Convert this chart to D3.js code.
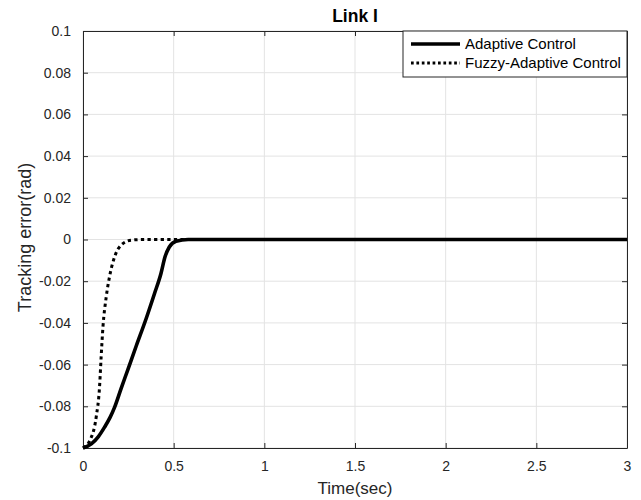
<!DOCTYPE html>
<html>
<head>
<meta charset="utf-8">
<script src="https://cdn.jsdelivr.net/npm/d3@7"></script>
<style>
  body { margin: 0; background: #fff; }
  svg { font-family: "Liberation Sans", Arial, sans-serif; }
</style>
</head>
<body>
<svg id="chart" width="641" height="500"></svg>
<script>
// values
const xTicks = [0, 0.5, 1, 1.5, 2, 2.5, 3];
const yTicks = [-0.1, -0.08, -0.06, -0.04, -0.02, 0, 0.02, 0.04, 0.06, 0.08, 0.1];

const timeAdaptive = [0, 0.046, 0.085, 0.119, 0.15, 0.174, 0.21, 0.247, 0.293, 0.348, 0.394, 0.43, 0.452, 0.476, 0.513, 0.58, 1, 2, 3];
const errAdaptive  = [-0.1, -0.098, -0.0945, -0.09, -0.0852, -0.0805, -0.0715, -0.0625, -0.0512, -0.038, -0.026, -0.0163, -0.0084, -0.0036, -0.0008, 0, 0, 0, 0];

const timeFuzzy = [0, 0.037, 0.073, 0.091, 0.1, 0.11, 0.128, 0.146, 0.174, 0.21, 0.266, 0.33, 1, 2, 3];
const errFuzzy  = [-0.1, -0.0965, -0.085, -0.071, -0.0564, -0.042, -0.0276, -0.018, -0.0084, -0.0027, -0.0003, 0, 0, 0, 0];

const legendNames = ["Adaptive Control", "Fuzzy-Adaptive Control"];

const margin = { top: 31, right: 14, bottom: 52, left: 83 };
const width = 641 - margin.left - margin.right;
const height = 500 - margin.top - margin.bottom;

const svg = d3.select("#chart");
const g = svg.append("g").attr("transform", `translate(${margin.left},${margin.top})`);

const x = d3.scaleLinear().domain([0, 3]).range([0, width]);
const y = d3.scaleLinear().domain([-0.1, 0.1]).range([height, 0]);

// grid
g.append("g").selectAll("line").data(xTicks).join("line")
  .attr("x1", d => x(d)).attr("x2", d => x(d)).attr("y1", 0).attr("y2", height)
  .attr("stroke", "#e3e3e3");
g.append("g").selectAll("line").data(yTicks).join("line")
  .attr("y1", d => y(d)).attr("y2", d => y(d)).attr("x1", 0).attr("x2", width)
  .attr("stroke", "#e3e3e3");

// axes, ticks pointing inward (plain hyphen for minus, like matlab)
const fmt = d => String(d);
g.append("g").attr("transform", `translate(0,${height})`)
  .call(d3.axisBottom(x).tickValues(xTicks).tickSizeInner(-5).tickSizeOuter(0).tickPadding(13).tickFormat(fmt));
g.append("g")
  .call(d3.axisLeft(y).tickValues(yTicks).tickSizeInner(-5).tickSizeOuter(0).tickPadding(12).tickFormat(fmt));
g.append("g").call(d3.axisTop(x).tickValues(xTicks).tickSizeInner(-5).tickSizeOuter(0).tickFormat(""));
g.append("g").attr("transform", `translate(${width},0)`)
  .call(d3.axisRight(y).tickValues(yTicks).tickSizeInner(-5).tickSizeOuter(0).tickFormat(""));
g.selectAll(".domain").attr("stroke", "#262626");
g.selectAll(".tick line").attr("stroke", "#262626");
g.selectAll(".tick text").attr("font-size", 14).attr("fill", "#262626")
  .attr("font-family", "Liberation Sans, Arial, sans-serif");

// lines
const line = d3.line().x(d => x(d[0])).y(d => y(d[1])).curve(d3.curveMonotoneX);
const adaptive = timeAdaptive.map((t, i) => [t, errAdaptive[i]]);
const fuzzy = timeFuzzy.map((t, i) => [t, errFuzzy[i]]);

g.append("path").datum(fuzzy).attr("d", line)
  .attr("fill", "none").attr("stroke", "#000").attr("stroke-width", 3)
  .attr("stroke-dasharray", "3.3,3.3");
g.append("path").datum(adaptive).attr("d", line)
  .attr("fill", "none").attr("stroke", "#000").attr("stroke-width", 3.6);

// legend
const lg = g.append("g").attr("transform", `translate(${x(3) - 224},0)`);
lg.append("rect").attr("width", 224).attr("height", 46)
  .attr("fill", "#fff").attr("stroke", "#262626");
legendNames.forEach((name, i) => {
  const yy = 13 + i * 19;
  lg.append("line").attr("x1", 8).attr("x2", 57).attr("y1", yy).attr("y2", yy)
    .attr("stroke", "#000").attr("stroke-width", i === 0 ? 3.6 : 3)
    .attr("stroke-dasharray", i === 0 ? null : "2.7,2.7");
  lg.append("text").attr("x", 62).attr("y", yy + 5).attr("font-size", 15)
    .attr("fill", "#000").text(name);
});

// title and labels
svg.append("text").attr("x", margin.left + width / 2).attr("y", 22)
  .attr("text-anchor", "middle").attr("font-size", 17.5).attr("font-weight", "bold")
  .text("Link I");
svg.append("text").attr("x", margin.left + width / 2).attr("y", 494)
  .attr("text-anchor", "middle").attr("font-size", 17).attr("fill", "#262626")
  .text("Time(sec)");
svg.append("text").attr("transform", `translate(31,${margin.top + height / 2 - 2}) rotate(-90)`)
  .attr("text-anchor", "middle").attr("font-size", 18).attr("fill", "#262626")
  .text("Tracking error(rad)");
</script>
</body>
</html>
